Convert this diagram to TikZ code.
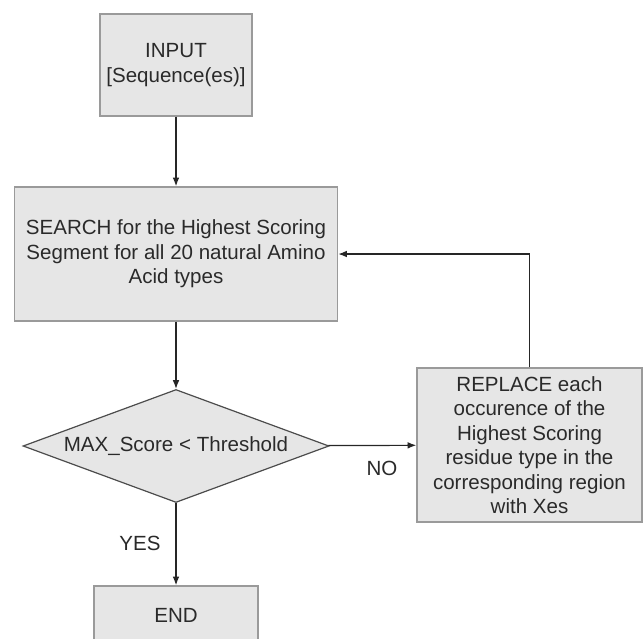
\documentclass[tikz,border=0pt]{standalone}
\usepackage{fontspec}
\setmainfont{Liberation Sans}
\usetikzlibrary{shapes.geometric,arrows.meta}
\definecolor{boxfill}{HTML}{E6E6E6}
\definecolor{boxline}{HTML}{9A9A9A}
\definecolor{txt}{HTML}{2A2A2A}
\begin{document}
\begin{tikzpicture}[x=0.75pt,y=-0.75pt,
  box/.style={rectangle, draw=boxline, line width=1.1pt, fill=boxfill, text=txt, align=center, inner sep=0pt, font=\fontsize{15.4}{18.4}\selectfont},
  test/.style={diamond, aspect=2.7, draw=black!70, line width=0.9pt, fill=boxfill, text=txt, inner sep=0pt, font=\fontsize{15.4}{18.4}\selectfont},
  lbl/.style={text=txt, font=\fontsize{15.4}{18.4}\selectfont},
  flow/.style={draw=black!85, line width=0.9pt, -{Latex[length=6.5pt,width=5pt]}}]
\clip (0,0) rectangle (643,639);
\node[box, minimum width=114pt, minimum height=76.5pt] (input) at (176,65){INPUT\\{}[Sequence(es)]};
\node[box, minimum width=242.25pt, minimum height=100.5pt] (search) at (176,254){SEARCH for the Highest Scoring\\Segment for all 20 natural Amino\\Acid types};
\node[test, minimum width=229.5pt, minimum height=84.75pt] (maxtest) at (176,446){MAX\_Score < Threshold};
\node[box, minimum width=168.75pt, minimum height=115.5pt] (replace) at (529.5,445){REPLACE each\\occurence of the\\Highest Scoring\\residue type in the\\corresponding region\\with Xes};
\node[box, minimum width=123pt, minimum height=43.5pt] (end) at (176,615){END};
\node[lbl] (no) at (382,468){NO};
\node[lbl] (yes) at (140,543){YES};
\draw[flow](input) -- (search);
\draw[flow](search) -- (maxtest);
\draw[flow](maxtest) -- (replace);
\draw[flow](replace.north) |- (search.east);
\draw[flow](maxtest) -- (end);
\end{tikzpicture}
\end{document}
